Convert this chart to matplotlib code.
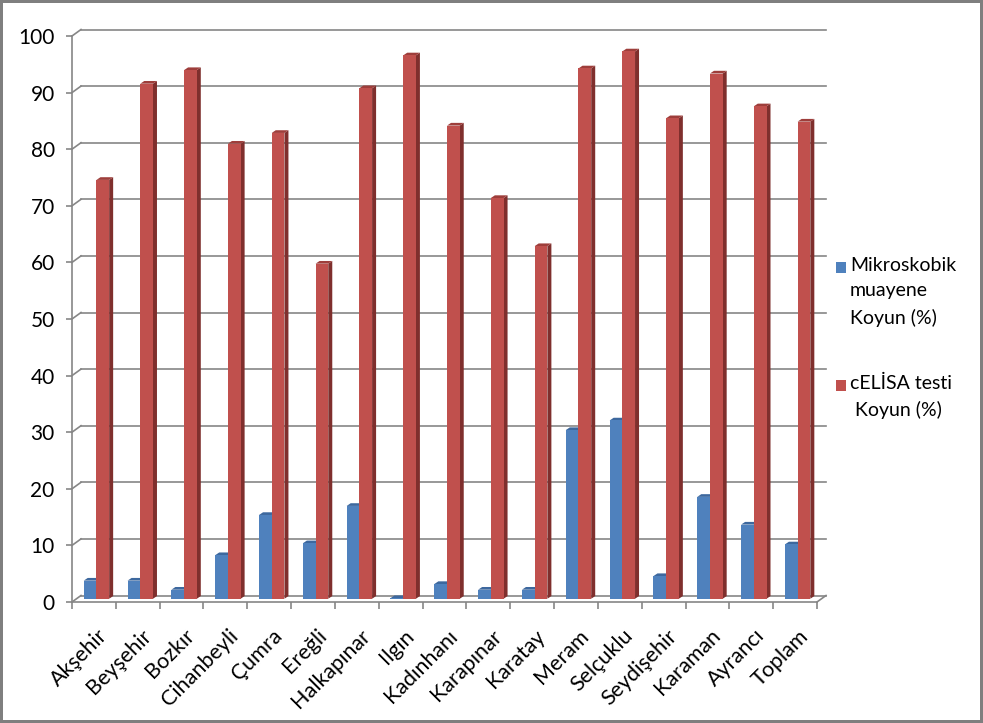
import matplotlib
matplotlib.use('Agg')
import matplotlib.pyplot as plt
from matplotlib.patches import Polygon, Rectangle
from matplotlib.transforms import ScaledTranslation

# data
districts = ['Akşehir', 'Beyşehir', 'Bozkır', 'Cihanbeyli', 'Çumra', 'Ereğli',
             'Halkapınar', 'Ilgın', 'Kadınhanı', 'Karapınar', 'Karatay', 'Meram',
             'Selçuklu', 'Seydişehir', 'Karaman', 'Ayrancı', 'Toplam']
mikroskobik = [3.2, 3.2, 1.6, 7.7, 14.8, 9.8, 16.4, 0.1, 2.6, 1.6, 1.6, 29.8,
               31.5, 4.0, 18.0, 13.1, 9.6]
celisa = [74.0, 91.0, 93.4, 80.4, 82.3, 59.2, 90.2, 96.0, 83.6, 70.8, 62.3,
          93.7, 96.7, 84.9, 92.8, 87.0, 84.3]
legend_labels = ['Mikroskobik\nmuayene\nKoyun (%)', 'cELİSA testi\n Koyun (%)']
yticks = list(range(0, 101, 10))

BLUE = ('#4F81BD', '#3D689E', '#2F5584')
RED = ('#C0504D', '#9E3E3B', '#7F2F2D')
GRID = '#868686'
FONT = 'Lato'
FS = 14

W, H = 983, 723
fig = plt.figure(figsize=(W / 100, H / 100), dpi=100, linewidth=4, edgecolor='#7F7F7F')
ax_l, ax_b, ax_w, ax_h = 72, 121, 745, 566
ax = fig.add_axes([ax_l / W, ax_b / H, ax_w / W, ax_h / H])
n = len(districts)
ax.set_xlim(-0.5, n - 0.5)
ax.set_ylim(0, 100)
ax.patch.set_alpha(0)

# pixel -> data factors for the fake 3d depth
px_x = n / ax_w
px_y = 100 / ax_h
DX, DY = 9 * px_x, 6.5 * px_y          # full wall depth
BX, BY = 4 * px_x, 2.7 * px_y          # bar depth
SX, SY = 4.5 * px_x, 3.25 * px_y       # bars sit mid-depth

# back wall gridlines + left wall diagonals
for y in yticks:
    ax.plot([-0.5 + DX, n - 0.5 + DX], [y + DY, y + DY], color=GRID, lw=1.2,
            clip_on=False, zorder=1)
    ax.plot([-0.5, -0.5 + DX], [y, y + DY], color=GRID, lw=1.2, clip_on=False, zorder=1)
ax.plot([n - 0.5, n - 0.5 + DX], [0, DY], color=GRID, lw=1.2, clip_on=False, zorder=1)

width = 0.29
offsets = [-0.19, 0.10]


def bar3d(x, v, cols):
    x0 = x - width / 2 + SX
    x1 = x + width / 2 + SX
    y0 = SY
    y1 = v + SY
    front = Rectangle((x0, y0), x1 - x0, y1 - y0, facecolor=cols[0], edgecolor='none',
                      zorder=3)
    side = Polygon([(x1, y0), (x1 + BX, y0 + BY), (x1 + BX, y1 + BY), (x1, y1)],
                   closed=True, facecolor=cols[2], edgecolor='none', zorder=3)
    top = Polygon([(x0, y1), (x1, y1), (x1 + BX, y1 + BY), (x0 + BX, y1 + BY)],
                  closed=True, facecolor=cols[1], edgecolor='none', zorder=3)
    for p in (side, top, front):
        p.set_clip_on(False)
        ax.add_patch(p)


for i in range(n):
    bar3d(i + offsets[0], mikroskobik[i], BLUE)
    bar3d(i + offsets[1], celisa[i], RED)

# front edges
for s in ['top', 'right']:
    ax.spines[s].set_visible(False)
for s in ['left', 'bottom']:
    ax.spines[s].set_color(GRID)
    ax.spines[s].set_linewidth(1.2)
    ax.spines[s].set_zorder(2)

ax.set_yticks(yticks)
ax.set_yticklabels([str(v) for v in yticks], fontsize=15, family=FONT)
ax.tick_params(axis='y', length=4.5, width=1.2, color=GRID, pad=8)

ax.set_xticks([i - 0.5 for i in range(n + 1)], minor=True)
ax.set_xticks(range(n))
ax.set_xticklabels(districts, rotation=45, ha='right', rotation_mode='anchor',
                   fontsize=15.5, family=FONT)
ax.tick_params(axis='x', which='major', length=0, pad=17)
ax.tick_params(axis='x', which='minor', length=5, width=1.2, color=GRID)
for lab in ax.get_xticklabels():
    lab.set_transform(lab.get_transform() + ScaledTranslation(0.03, 0, fig.dpi_scale_trans))

# legend on the right
leg_y = [262, 380]
for lab, col, yy in zip(legend_labels, [BLUE[0], RED[0]], leg_y):
    fig.patches.append(Rectangle((836 / W, 1 - (yy + 11) / H), 10 / W, 11 / H,
                                 facecolor=col, edgecolor='none',
                                 transform=fig.transFigure))
    fig.text(850 / W, 1 - (yy - 5) / H, lab, fontsize=FS, family=FONT,
             va='top', ha='left', linespacing=1.6)

fig.savefig('out.png', dpi=100)
